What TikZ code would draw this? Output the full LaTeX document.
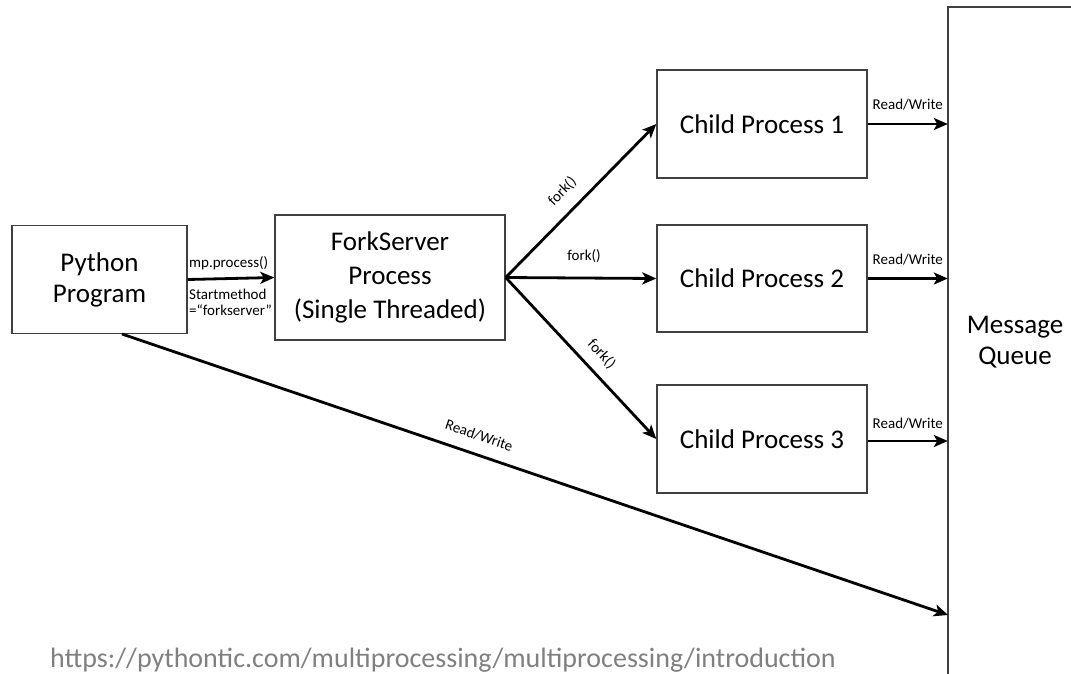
\documentclass[tikz,border=0pt]{standalone}
\usepackage{fontspec}
\setmainfont{Carlito}
\usetikzlibrary{arrows.meta}
\begin{document}
\begin{tikzpicture}[x=1pt,y=-1pt,
  boxst/.style={draw=black!75,line width=1.4pt,fill=white,inner sep=0pt,align=center,
     font=\fontsize{27}{31}\selectfont},
  conn/.style={line width=2.8pt,-{Stealth[length=14pt,width=12pt,inset=3.5pt]}},
  small/.style={font=\fontsize{15}{17}\selectfont,inner sep=1pt}]
\useasboundingbox (0,0) rectangle (1071,673);
% nodes
\node[boxst,minimum width=175pt,minimum height=108pt] (py) at (99.5,279.5) {Python\\Program};
\node[boxst,minimum width=230pt,minimum height=125pt,font=\fontsize{27}{34}\selectfont] (fs) at (390,277.5) {ForkServer\\Process\\(Single Threaded)};
\node[boxst,minimum width=210pt,minimum height=108pt] (c1) at (762,124) {Child Process 1};
\node[boxst,minimum width=210pt,minimum height=107pt] (c2) at (762,278.5) {Child Process 2};
\node[boxst,minimum width=210pt,minimum height=108pt] (c3) at (762,439) {Child Process 3};
\node[inner sep=0pt,minimum width=140pt,minimum height=690pt] (mq) at (1018,352) {};
\draw[black!75,line width=1.4pt] (mq.north east) -- (mq.north west) -- (mq.south west);
\node[align=center,font=\fontsize{27}{31}\selectfont] (mqt) at (1015,342) {Message\\Queue};
% connectors
\draw[conn] (py.east) -- (fs.west);
\node[small,anchor=south west] (l1) at (188,271) {mp.process()};
\node[small,anchor=north west,align=left,font=\fontsize{15}{16}\selectfont] (l2) at (188,288) {Startmethod\\=“forkserver”};
\draw[conn] (fs.east) -- (c1.west) node[small,pos=0.47,above=11pt,sloped] {fork()};
\draw[conn] (fs.east) -- (c2.west) node[small,pos=0.52,above=13pt] {fork()};
\draw[conn] (fs.east) -- (c3.west) node[small,pos=0.55,above=9pt,sloped] {fork()};
\draw[conn] (c1.east) -- (c1.east -| mq.west) node[small,midway,above=11pt] {Read/Write};
\draw[conn] (c2.east) -- (c2.east -| mq.west) node[small,midway,above=11pt] {Read/Write};
\draw[conn] ([yshift=-2pt]c3.east) -- ([yshift=-2pt]c3.east -| mq.west) node[small,midway,above=9pt] {Read/Write};
\coordinate (pyb) at (122,334);
\coordinate (mqb) at (948,615);
\draw[conn] (pyb) -- (mqb) node[small,pos=0.425,above=11pt,sloped] {Read/Write};
% source
\node[anchor=base west,text=black!50,font=\fontsize{28}{31}\selectfont,inner sep=0pt] (url) at (50,667) {https://pythontic.com/multiprocessing/multiprocessing/introduction};
\end{tikzpicture}
\end{document}
